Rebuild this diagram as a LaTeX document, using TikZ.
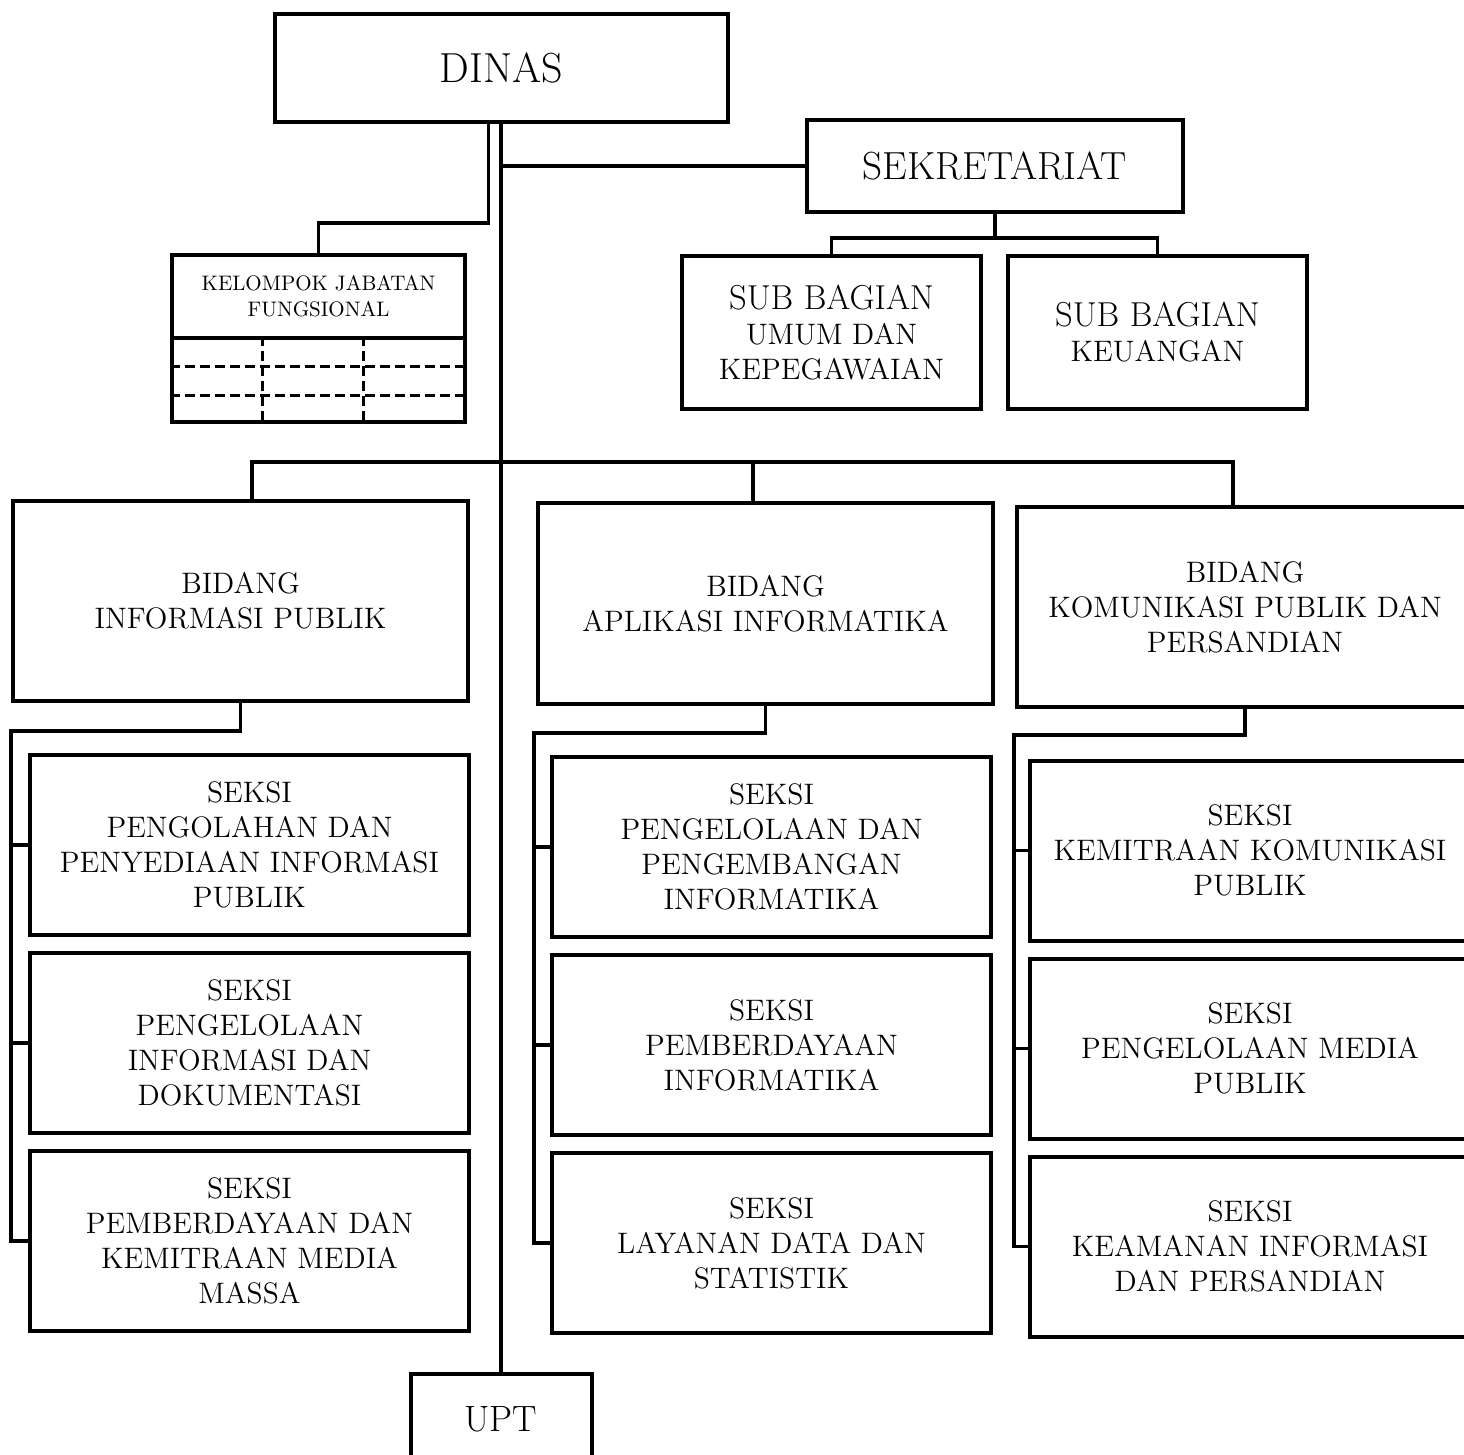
\documentclass[tikz,border=0pt]{standalone}
\usepackage{fontspec}
\usetikzlibrary{calc}
\begin{document}
\begin{tikzpicture}[x=0.5pt,y=-0.5pt,
  box/.style={draw, line width=2pt, inner sep=0pt, align=center, font=\fontsize{14.8}{17.5}\selectfont},
  conn/.style={line width=1.7pt},
  dashln/.style={line width=1.5pt, dash pattern=on 5pt off 2.5pt}]
\useasboundingbox (0,0) rectangle (1464,1455);
\clip (0,0) rectangle (1464,1455);

% top level
\node[box, minimum width=226.5pt, minimum height=54pt, font=\fontsize{21}{24}\selectfont] (dinas) at (501.5,68) {DINAS};
\node[box, minimum width=188pt, minimum height=46pt, font=\fontsize{19.6}{22}\selectfont] (sek) at (995,166) {SEKRETARIAT};
\node[box, minimum width=146.5pt, minimum height=41.5pt, font=\fontsize{10.5}{13}\selectfont] (kel) at (318.5,296.5) {KELOMPOK JABATAN\\FUNGSIONAL};
\node[box, minimum width=146.5pt, minimum height=42pt] (kelg) at (318.5,380) {};
\node[box, minimum width=149.5pt, minimum height=76.5pt] (sbu) at (831.5,332.5) {{\fontsize{17.3}{17.5}\selectfont SUB BAGIAN}\\UMUM DAN\\KEPEGAWAIAN};
\node[box, minimum width=149.5pt, minimum height=76.5pt] (sbk) at (1157.5,332.5) {{\fontsize{17.3}{17.5}\selectfont SUB BAGIAN}\\KEUANGAN};

% bidang
\node[box, minimum width=227.5pt, minimum height=100pt] (bid1) at (240.5,601) {BIDANG\\INFORMASI PUBLIK};
\node[box, minimum width=227.5pt, minimum height=100.5pt] (bid2) at (765.5,603.5) {BIDANG\\APLIKASI INFORMATIKA};
\node[box, minimum width=228pt, minimum height=100pt] (bid3) at (1245,607) {BIDANG\\KOMUNIKASI PUBLIK DAN\\PERSANDIAN};

% seksi column 1
\node[box, minimum width=219.5pt, minimum height=90pt] (s11) at (249.5,845) {SEKSI\\PENGOLAHAN DAN\\PENYEDIAAN INFORMASI\\PUBLIK};
\node[box, minimum width=219.5pt, minimum height=90pt] (s12) at (249.5,1043) {SEKSI\\PENGELOLAAN\\INFORMASI DAN\\DOKUMENTASI};
\node[box, minimum width=219.5pt, minimum height=90pt] (s13) at (249.5,1241) {SEKSI\\PEMBERDAYAAN DAN\\KEMITRAAN MEDIA\\MASSA};
% seksi column 2
\node[box, minimum width=219.5pt, minimum height=90pt] (s21) at (771.5,847) {SEKSI\\PENGELOLAAN DAN\\PENGEMBANGAN\\INFORMATIKA};
\node[box, minimum width=219.5pt, minimum height=90pt] (s22) at (771.5,1045) {SEKSI\\PEMBERDAYAAN\\INFORMATIKA};
\node[box, minimum width=219.5pt, minimum height=90pt] (s23) at (771.5,1243) {SEKSI\\LAYANAN DATA DAN\\STATISTIK};
% seksi column 3
\node[box, minimum width=220pt, minimum height=90pt] (s31) at (1250,850.5) {SEKSI\\KEMITRAAN KOMUNIKASI\\PUBLIK};
\node[box, minimum width=220pt, minimum height=90pt] (s32) at (1250,1048.5) {SEKSI\\PENGELOLAAN MEDIA\\PUBLIK};
\node[box, minimum width=220pt, minimum height=90pt] (s33) at (1250,1246.5) {SEKSI\\KEAMANAN INFORMASI\\DAN PERSANDIAN};

\node[box, minimum width=90.5pt, minimum height=45pt, font=\fontsize{18.3}{21}\selectfont] (upt) at (501,1419) {UPT};

% kelompok grid
\draw[dashln] ($(kelg.north west)!0.345!(kelg.south west)$) -- ($(kelg.north east)!0.345!(kelg.south east)$);
\draw[dashln] ($(kelg.north west)!0.68!(kelg.south west)$) -- ($(kelg.north east)!0.68!(kelg.south east)$);
\draw[dashln] ($(kelg.north west)!0.31!(kelg.north east)$) -- ($(kelg.south west)!0.31!(kelg.south east)$);
\draw[dashln] ($(kelg.north west)!0.652!(kelg.north east)$) -- ($(kelg.south west)!0.652!(kelg.south east)$);

% connectors
\draw[conn] (upt.north |- dinas.south) -- (upt.north);
\draw[conn] ([xshift=-6.5pt]dinas.south) -- ++(0,99) -| (kel.north);
\draw[conn] (upt.north |- sek.west) -- (sek.west);
\coordinate (sbbus) at (995,238);
\draw[conn] (sek.south) -- (sbbus);
\draw[conn] (sbu.north) |- (sbbus) -| (sbk.north);

\coordinate (bus) at (501,462);
\path ([xshift=5.75pt]bid1.north) coordinate (b1t)
      ([xshift=-6.25pt]bid2.north) coordinate (b2t)
      ([xshift=-6pt]bid3.north) coordinate (b3t);
\draw[conn] (b1t) |- (bus) -| (b3t);
\draw[conn] (b2t) -- (b2t |- bus);

\coordinate (c1) at (11,731);
\draw[conn] (bid1.south) |- (c1) |- (s13.west);
\draw[conn] (c1 |- s11.west) -- (s11.west);
\draw[conn] (c1 |- s12.west) -- (s12.west);

\coordinate (c2) at (534,733);
\draw[conn] (bid2.south) |- (c2) |- (s23.west);
\draw[conn] (c2 |- s21.west) -- (s21.west);
\draw[conn] (c2 |- s22.west) -- (s22.west);

\coordinate (c3) at (1014,735);
\draw[conn] (bid3.south) |- (c3) |- (s33.west);
\draw[conn] (c3 |- s31.west) -- (s31.west);
\draw[conn] (c3 |- s32.west) -- (s32.west);
\end{tikzpicture}
\end{document}
